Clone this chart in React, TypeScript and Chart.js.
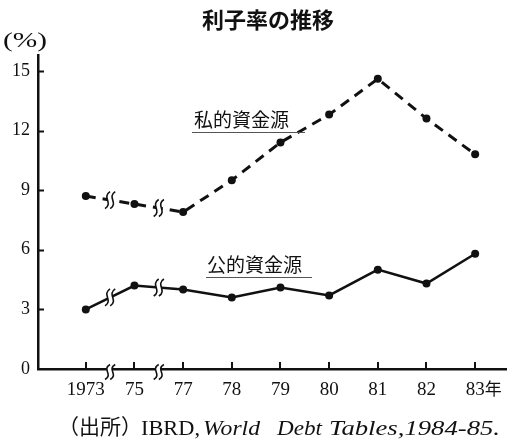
import React, { useEffect, useRef } from "react";
import { Chart, registerables } from "chart.js";

Chart.register(...registerables);

const years = ["1973", "75", "77", "78", "79", "80", "81", "82", "83"];
const yearSuffix = "年";
const privateRates = [8.7, 8.3, 7.9, 9.5, 11.4, 12.8, 14.6, 12.6, 10.8];
const publicRates = [3.0, 4.2, 4.0, 3.6, 4.1, 3.7, 5.0, 4.3, 5.8];
const yTicks = [0, 3, 6, 9, 12, 15];
const breaksAfter = [0, 1];
const titleText = "利子率の推移";
const unitText = "(%)";
const privateLabel = "私的資金源";
const publicLabel = "公的資金源";
const sourceParts = ["（出所）", "IBRD,", "World", "Debt", "Tables,1984-85."];

const CJK = '"Noto Sans CJK JP", "Noto Sans CJK SC", sans-serif';
const SERIF = '"Liberation Serif", "Times New Roman", serif';

function squigglePath(ctx: CanvasRenderingContext2D, x: number, cy: number, h: number, reverse: boolean) {
  const t = cy - h / 2;
  const b = cy + h / 2;
  if (!reverse) {
    ctx.moveTo(x + 2.5, t);
    ctx.bezierCurveTo(x - 6, cy - h / 6, x + 6, cy + h / 6, x - 2.5, b);
  } else {
    ctx.lineTo(x - 2.5, b);
    ctx.bezierCurveTo(x + 6, cy + h / 6, x - 6, cy - h / 6, x + 2.5, t);
  }
}

function drawBreak(ctx: CanvasRenderingContext2D, cx: number, cy: number, h: number) {
  const g = 2.6;
  const x1 = cx - g;
  const x2 = cx + g;
  ctx.save();
  ctx.fillStyle = "#ffffff";
  ctx.beginPath();
  squigglePath(ctx, x1, cy, h, false);
  squigglePath(ctx, x2, cy, h, true);
  ctx.closePath();
  ctx.fill();
  ctx.strokeStyle = "#111111";
  ctx.lineWidth = 1.6;
  for (const x of [x1, x2]) {
    ctx.beginPath();
    squigglePath(ctx, x, cy, h, false);
    ctx.stroke();
  }
  ctx.restore();
}

function fitText(ctx: CanvasRenderingContext2D, text: string, font: string, x: number, y: number, width: number) {
  ctx.save();
  ctx.font = font;
  const w = ctx.measureText(text).width;
  ctx.translate(x, y);
  ctx.scale(width / w, 1);
  ctx.fillText(text, 0, 0);
  ctx.restore();
}

const decorPlugin = {
  id: "decor",
  afterDraw(chart: any) {
    const ctx: CanvasRenderingContext2D = chart.ctx;
    const xs = chart.scales.x;
    const ys = chart.scales.y;
    const area = chart.chartArea;

    ctx.save();
    ctx.strokeStyle = "#111111";
    ctx.lineWidth = 2;
    for (const v of yTicks) {
      if (v === 0) continue;
      const y = Math.round(ys.getPixelForValue(v)) + 0.5;
      ctx.beginPath();
      ctx.moveTo(area.left, y);
      ctx.lineTo(area.left + 6, y);
      ctx.stroke();
    }
    years.forEach((_, i) => {
      const x = Math.round(xs.getPixelForValue(i));
      ctx.beginPath();
      ctx.moveTo(x, area.bottom);
      ctx.lineTo(x, area.bottom - 7);
      ctx.stroke();
    });
    ctx.restore();

    const metas = [chart.getDatasetMeta(0), chart.getDatasetMeta(1)];
    for (const i of breaksAfter) {
      const cx = (xs.getPixelForValue(i) + xs.getPixelForValue(i + 1)) / 2;
      drawBreak(ctx, cx, area.bottom + 3, 15);
      for (const m of metas) {
        const p0 = m.data[i];
        const p1 = m.data[i + 1];
        const cy = p0.y + ((p1.y - p0.y) * (cx - p0.x)) / (p1.x - p0.x);
        drawBreak(ctx, cx, cy, 17);
      }
    }

    ctx.save();
    ctx.fillStyle = "#111111";
    ctx.font = `19px ${SERIF}`;
    const lastX = xs.getPixelForValue(years.length - 1);
    const lw = ctx.measureText(years[years.length - 1]).width;
    ctx.font = `17px ${CJK}`;
    ctx.textBaseline = "middle";
    ctx.textAlign = "left";
    ctx.fillText(yearSuffix, lastX + lw / 2, 389);

    ctx.font = `bold 22px ${CJK}`;
    ctx.textAlign = "center";
    ctx.textBaseline = "middle";
    ctx.fillText(titleText, 268, 20);

    ctx.textAlign = "left";
    fitText(ctx, unitText, `20px ${SERIF}`, 3, 42, 44);

    ctx.font = `19px ${CJK}`;
    ctx.textAlign = "left";
    ctx.textBaseline = "middle";
    ctx.fillText(privateLabel, 194, 120);
    ctx.fillText(publicLabel, 207, 265);
    ctx.strokeStyle = "#555555";
    ctx.lineWidth = 1;
    ctx.beginPath();
    ctx.moveTo(192, 132.5);
    ctx.lineTo(305, 132.5);
    ctx.moveTo(206, 277.5);
    ctx.lineTo(312, 277.5);
    ctx.stroke();

    ctx.textBaseline = "alphabetic";
    ctx.textAlign = "left";
    const by = 435;
    ctx.font = `21px ${CJK}`;
    ctx.fillText(sourceParts[0], 58, by - 1);
    fitText(ctx, sourceParts[1], `21px ${SERIF}`, 141, by, 59);
    fitText(ctx, sourceParts[2], `italic 21px ${SERIF}`, 203, by, 57);
    fitText(ctx, sourceParts[3], `italic 21px ${SERIF}`, 277, by, 45);
    fitText(ctx, sourceParts[4], `italic 21px ${SERIF}`, 329, by, 171);
    ctx.restore();
  },
};

export default function App() {
  const ref = useRef<HTMLCanvasElement | null>(null);

  useEffect(() => {
    if (!ref.current) return;
    const chart = new Chart(ref.current, {
      type: "line",
      data: {
        datasets: [
          {
            label: privateLabel,
            data: privateRates.map((v, i) => ({ x: i, y: v })),
            borderColor: "#111111",
            backgroundColor: "#111111",
            borderWidth: 3,
            borderDash: [10, 7],
            pointRadius: 4,
            pointBorderWidth: 0,
            pointBackgroundColor: "#111111",
            tension: 0,
          },
          {
            label: publicLabel,
            data: publicRates.map((v, i) => ({ x: i, y: v })),
            borderColor: "#111111",
            backgroundColor: "#111111",
            borderWidth: 2.5,
            pointRadius: 4,
            pointBorderWidth: 0,
            pointBackgroundColor: "#111111",
            tension: 0,
          },
        ],
      },
      options: {
        animation: false,
        responsive: false,
        devicePixelRatio: 1,
        layout: { padding: { top: 55, right: 2, left: 0, bottom: 0 } },
        plugins: {
          legend: { display: false },
          tooltip: { enabled: false },
          title: { display: false },
        },
        scales: {
          x: {
            type: "linear",
            min: -0.982,
            max: 8.634,
            grid: { display: false, drawTicks: false },
            border: { display: true, color: "#111111", width: 2.5 },
            afterBuildTicks: (scale: any) => {
              scale.ticks = years.map((_, i) => ({ value: i }));
            },
            afterFit: (scale: any) => {
              scale.height = 71;
            },
            ticks: {
              autoSkip: false,
              maxRotation: 0,
              padding: 10,
              color: "#111111",
              font: { family: SERIF, size: 19 },
              callback: (v: any) => years[Math.round(Number(v))] ?? "",
            },
          },
          y: {
            type: "linear",
            min: 0,
            max: 15.8,
            grid: { display: false, drawTicks: false },
            border: { display: true, color: "#111111", width: 2.5 },
            afterBuildTicks: (scale: any) => {
              scale.ticks = yTicks.map((v) => ({ value: v }));
            },
            afterFit: (scale: any) => {
              scale.width = 38;
            },
            ticks: {
              padding: 8,
              color: "#111111",
              font: { family: SERIF, size: 18 },
            },
          },
        },
      },
      plugins: [decorPlugin],
    });
    return () => chart.destroy();
  }, []);

  return (
    <div style={{ position: "absolute", left: 0, top: 0, width: 510, height: 440, background: "#fff" }}>
      <canvas ref={ref} width={510} height={440} style={{ width: 510, height: 440, display: "block" }} />
    </div>
  );
}
